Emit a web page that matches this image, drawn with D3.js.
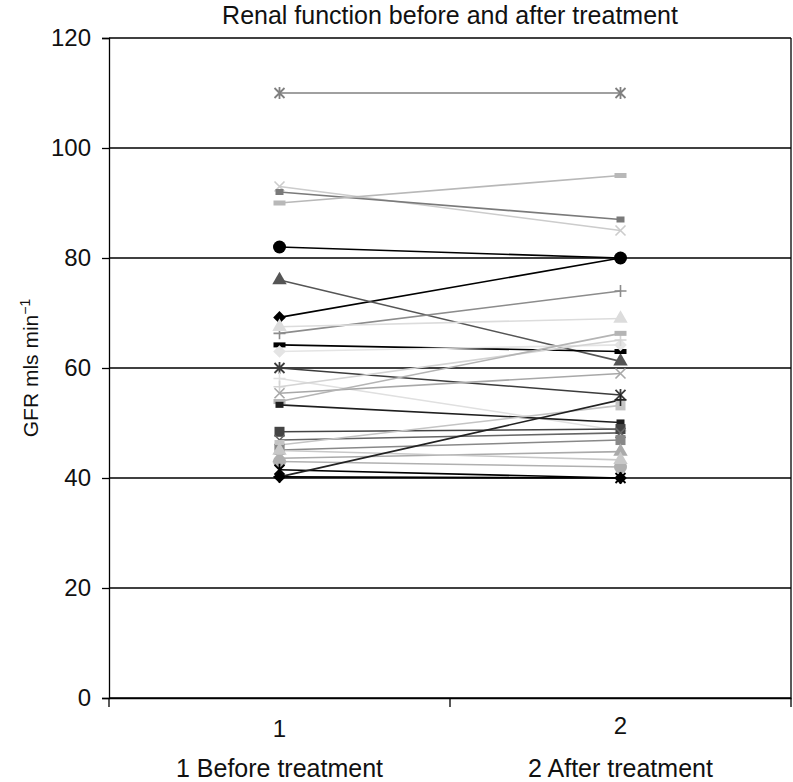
<!DOCTYPE html>
<html>
<head>
<meta charset="utf-8">
<script src="https://cdn.jsdelivr.net/npm/d3@7"></script>
<style>
  body { margin: 0; background: #fff; }
  text { font-family: "Liberation Sans", Arial, sans-serif; fill: #111; }
</style>
</head>
<body>
<div id="chart"></div>
<script>
const title = "Renal function before and after treatment";
const categories = [1, 2];
const categoryNames = ["1 Before treatment", "2 After treatment"];
const yTicks = [0, 20, 40, 60, 80, 100, 120];

// one entry per patient: GFR before, GFR after
const before = [110, 93, 92, 90, 69.2, 76, 82, 66.3, 67.5, 64.2, 63, 60, 58.1, 56.6, 55.4, 53.9, 53.3, 48.4, 46.9, 46, 45.1, 43.6, 43, 45, 41.5, 40.2, 40.2];
const after  = [110, 85, 87, 95, 80, 61.2, 80, 74, 69, 63, 64.2, 55.1, 48.6, 65.1, 59, 66.3, 50.1, 48.9, 48.2, 53.2, 46.9, 44.8, 42, 43.3, 40, 54.2, 40];
const markers = ["star", "x", "rect", "dash", "diamond", "triangle", "circle", "plus", "triangle", "dash", "diamond", "star", "plus", "plus", "x", "dash", "rect", "square", "x", "square", "square", "triangle", "circle", "triangle", "star", "plus", "diamond"];
const shades = ["#808080", "#cccccc", "#7a7a7a", "#b8b8b8", "#000000", "#555555", "#000000", "#8c8c8c", "#dcdcdc", "#000000", "#e4e4e4", "#3c3c3c", "#e0e0e0", "#d4d4d4", "#a8a8a8", "#b4b4b4", "#1e1e1e", "#444444", "#666666", "#c4c4c4", "#888888", "#aaaaaa", "#b0b0b0", "#c8c8c8", "#000000", "#222222", "#000000"];

const width = 793;
const height = 782;
const margin = { top: 38, right: 2, bottom: 84, left: 109 };

const svg = d3.select("#chart").append("svg")
  .attr("width", width)
  .attr("height", height);

const x = d3.scaleBand()
  .domain(categories)
  .range([margin.left, width - margin.right]);

const y = d3.scaleLinear()
  .domain([0, 120])
  .range([height - margin.bottom, margin.top]);

// gridlines
svg.append("g")
  .selectAll("line")
  .data(yTicks)
  .join("line")
  .attr("x1", margin.left)
  .attr("x2", width - margin.right)
  .attr("y1", d => y(d))
  .attr("y2", d => y(d))
  .attr("stroke", "#000")
  .attr("stroke-width", 1.3);

// right frame edge
svg.append("line")
  .attr("x1", width - margin.right)
  .attr("x2", width - margin.right)
  .attr("y1", y(120))
  .attr("y2", y(0))
  .attr("stroke", "#000")
  .attr("stroke-width", 1.3);

// y axis
const yAxis = svg.append("g")
  .attr("transform", `translate(${margin.left},0)`)
  .call(d3.axisLeft(y).tickValues(yTicks).tickSize(7).tickPadding(11));
yAxis.select(".domain").attr("stroke-width", 1.3);
yAxis.selectAll("line").attr("stroke-width", 1.3);
yAxis.selectAll("text").attr("font-size", 24).attr("font-family", "Liberation Sans, Arial, sans-serif");

// x axis
const xAxis = svg.append("g")
  .attr("transform", `translate(0,${y(0)})`)
  .call(d3.axisBottom(x).tickSize(0).tickPadding(22));
xAxis.select(".domain").attr("stroke-width", 1.3);
xAxis.selectAll("text").attr("font-size", 24).attr("font-family", "Liberation Sans, Arial, sans-serif");
xAxis.selectAll(".tick").filter(d => d === 2).select("text").attr("dy", "0.6em");

// tick marks on the band edges
const edges = [margin.left, x(2), width - margin.right];
svg.append("g")
  .selectAll("line")
  .data(edges)
  .join("line")
  .attr("x1", d => d)
  .attr("x2", d => d)
  .attr("y1", y(0))
  .attr("y2", y(0) + 9)
  .attr("stroke", "#000")
  .attr("stroke-width", 1.3);

// category names
svg.append("g")
  .selectAll("text")
  .data(categories)
  .join("text")
  .attr("x", d => x(d) + x.bandwidth() / 2)
  .attr("y", 777)
  .attr("text-anchor", "middle")
  .attr("font-size", 25)
  .text((d, i) => categoryNames[i]);

// title
svg.append("text")
  .attr("x", (margin.left + width - margin.right) / 2)
  .attr("y", 24)
  .attr("text-anchor", "middle")
  .attr("font-size", 25)
  .text(title);

// y label
const yl = svg.append("text")
  .attr("transform", `translate(38,${y(60)}) rotate(-90)`)
  .attr("text-anchor", "middle")
  .attr("font-size", 21);
yl.append("tspan").text("GFR mls min");
yl.append("tspan").attr("dy", -8).attr("font-size", 14).text("\u22121");

// series
const cx = d => x(d) + x.bandwidth() / 2;
const series = before.map((b, i) => ({
  pts: [{ c: 1, v: b }, { c: 2, v: after[i] }],
  marker: markers[i],
  color: shades[i]
}));

const line = d3.line().x(d => cx(d.c)).y(d => y(d.v));

const g = svg.append("g");
g.selectAll("path.series")
  .data(series)
  .join("path")
  .attr("class", "series")
  .attr("fill", "none")
  .attr("stroke", d => d.color)
  .attr("stroke-width", 1.6)
  .attr("d", d => line(d.pts));

function drawMarker(sel, type, color) {
  const s = 5;
  if (type === "circle") {
    sel.append("circle").attr("r", 6.5).attr("fill", color);
  } else if (type === "square") {
    sel.append("rect").attr("x", -s).attr("y", -s).attr("width", 2 * s).attr("height", 2 * s).attr("fill", color);
  } else if (type === "rect") {
    sel.append("rect").attr("x", -4).attr("y", -3).attr("width", 8).attr("height", 6).attr("fill", color);
  } else if (type === "dash") {
    sel.append("rect").attr("x", -6).attr("y", -2.5).attr("width", 12).attr("height", 5).attr("fill", color);
  } else if (type === "diamond") {
    sel.append("path").attr("d", "M0,-6.3L6.3,0L0,6.3L-6.3,0Z").attr("fill", color);
  } else if (type === "triangle") {
    sel.append("path").attr("d", d3.symbol(d3.symbolTriangle, 90)).attr("fill", color);
  } else if (type === "x") {
    sel.append("path").attr("d", `M${-s},${-s}L${s},${s}M${-s},${s}L${s},${-s}`)
      .attr("stroke", color).attr("stroke-width", 1.6).attr("fill", "none");
  } else if (type === "plus") {
    sel.append("path").attr("d", `M${-s - 1},0L${s + 1},0M0,${-s - 1}L0,${s + 1}`)
      .attr("stroke", color).attr("stroke-width", 1.6).attr("fill", "none");
  } else if (type === "star") {
    sel.append("path").attr("d", `M${-s},${-s}L${s},${s}M${-s},${s}L${s},${-s}M0,${-s - 1}L0,${s + 1}`)
      .attr("stroke", color).attr("stroke-width", 1.8).attr("fill", "none");
  }
}

series.forEach(sr => {
  sr.pts.forEach(p => {
    const m = g.append("g").attr("transform", `translate(${cx(p.c)},${y(p.v)})`);
    drawMarker(m, sr.marker, sr.color);
  });
});
</script>
</body>
</html>
